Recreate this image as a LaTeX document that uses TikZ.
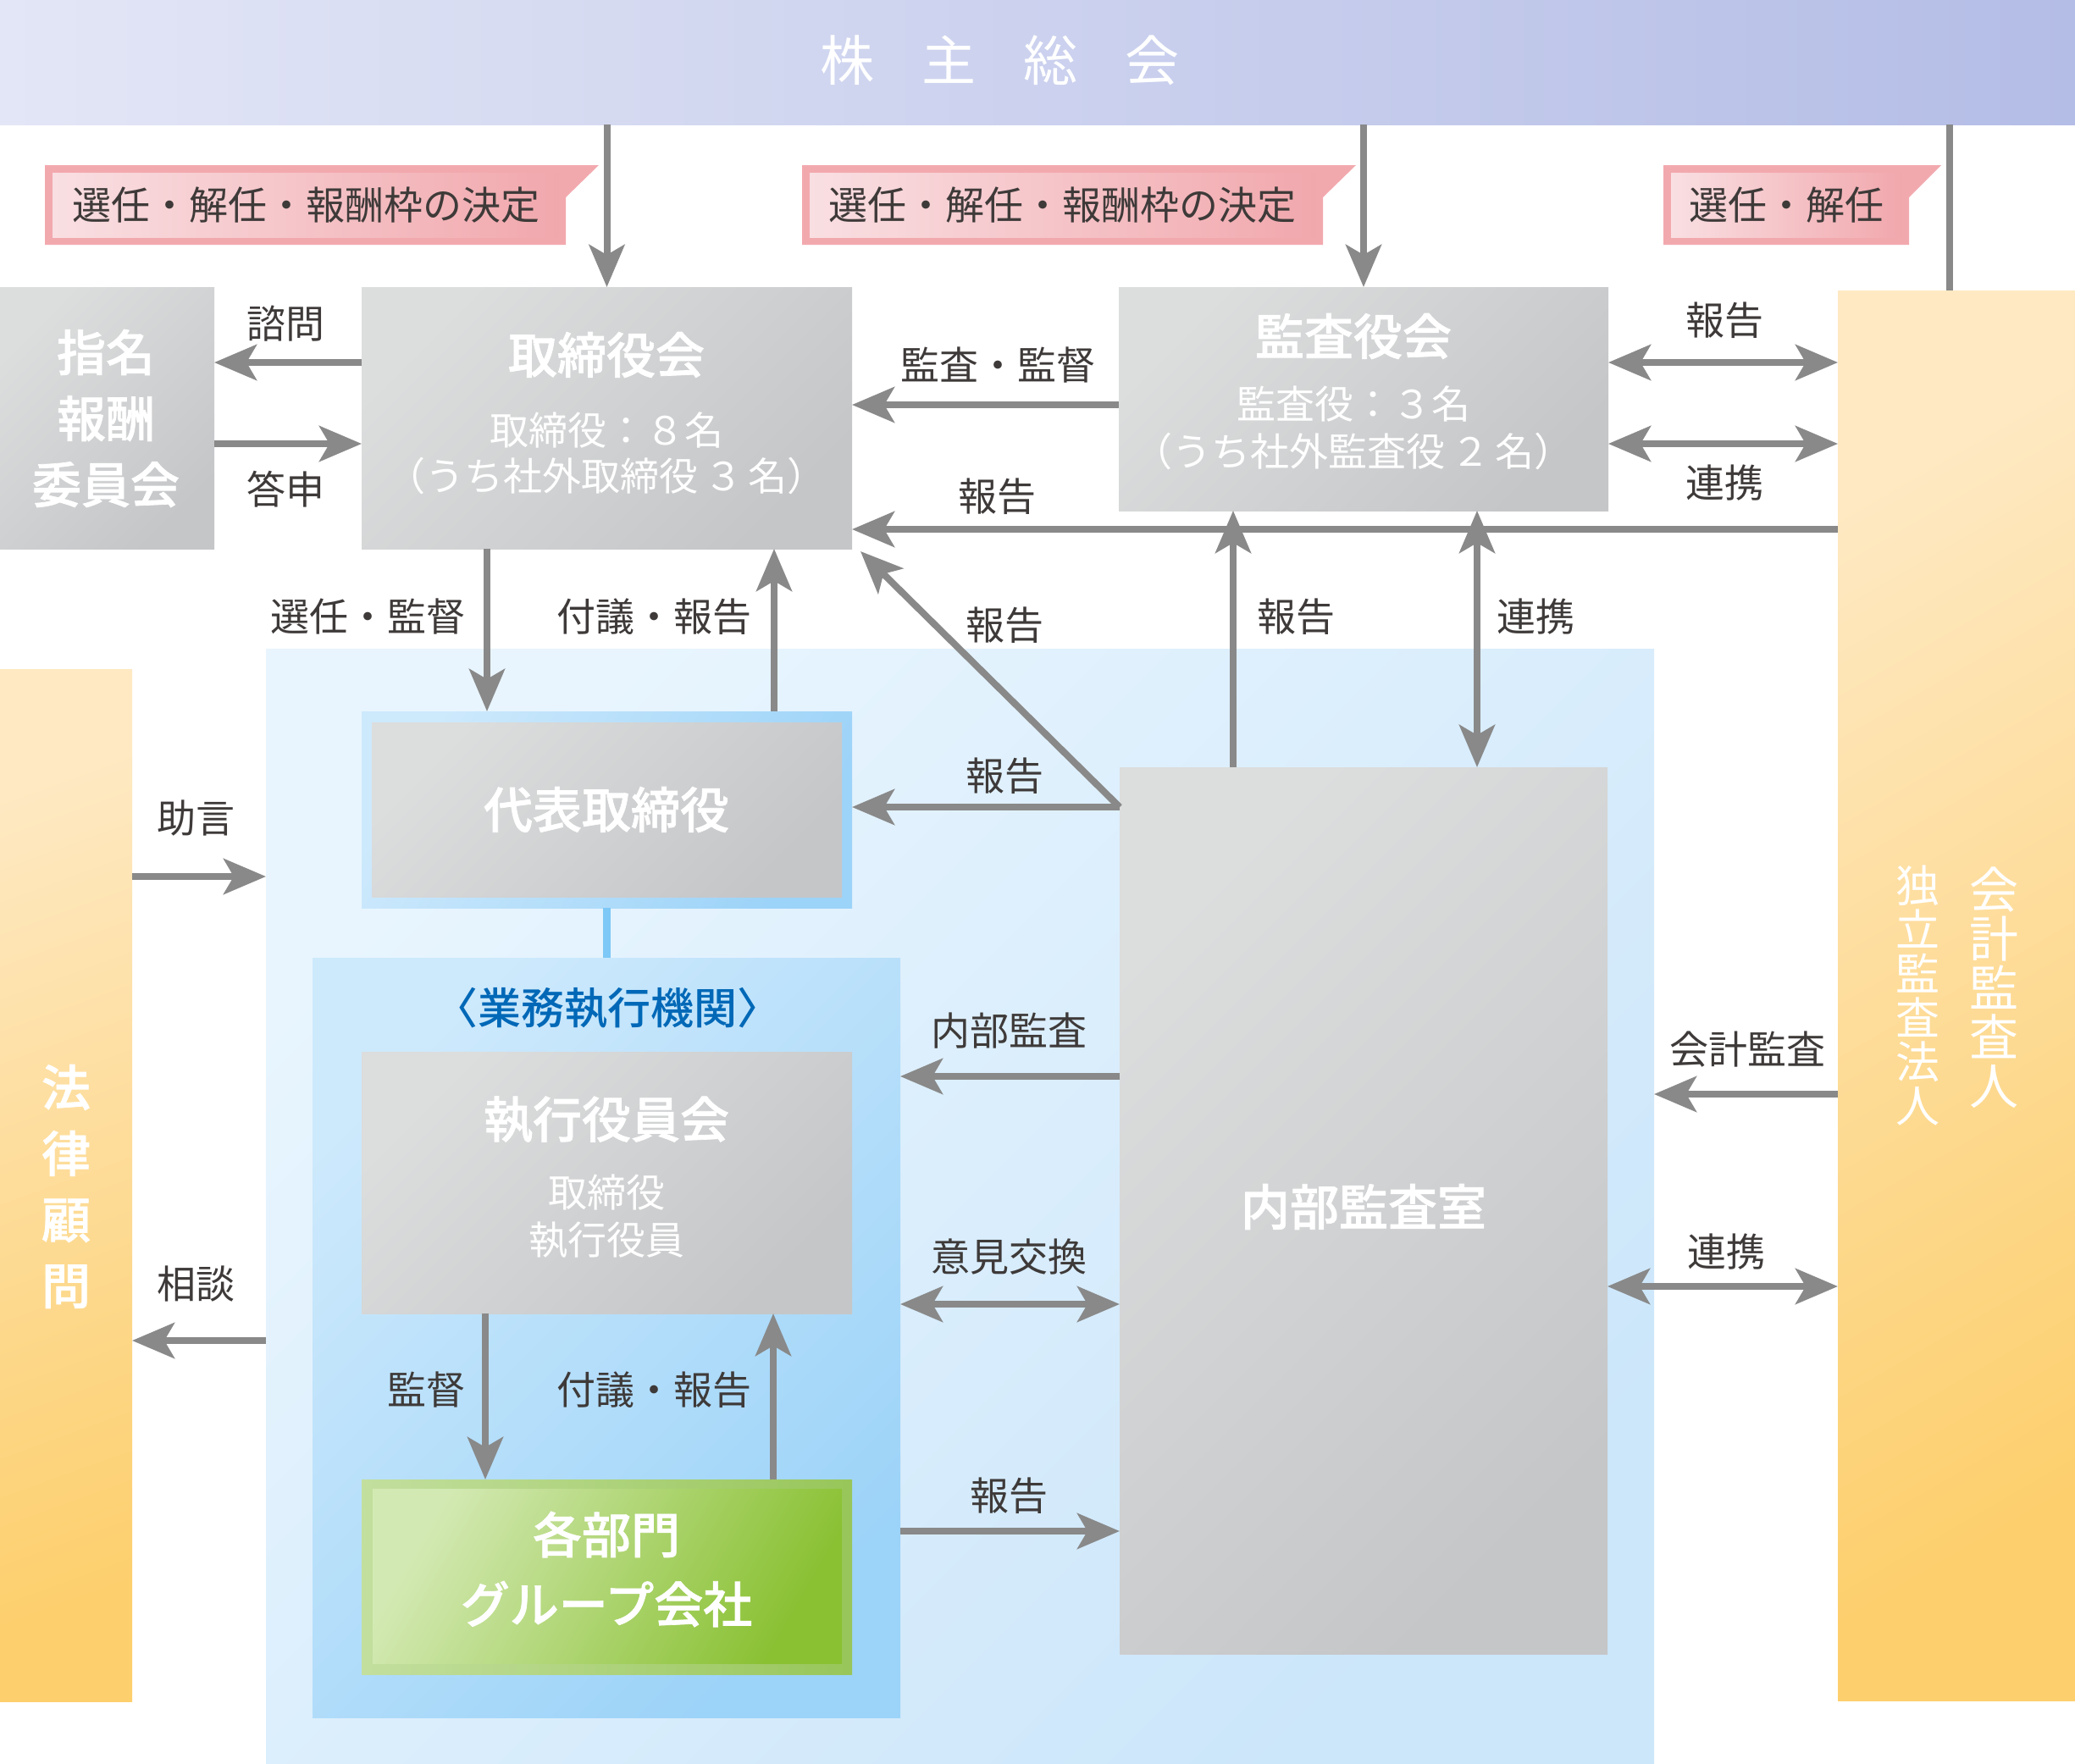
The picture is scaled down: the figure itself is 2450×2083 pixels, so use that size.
\documentclass[tikz,border=0pt]{standalone}
\usepackage{fontspec}
\setmainfont{Noto Sans CJK JP}
\IfFontExistsTF{Noto Sans CJK JP Medium}{%
  \newfontfamily\jpb{Noto Sans CJK JP Medium}%
  \newfontfamily\jpm{Noto Sans CJK JP Medium}[FakeBold=1.2]}{%
  \newfontfamily\jpb{Noto Sans CJK JP}[FakeBold=1.5]%
  \newfontfamily\jpm{Noto Sans CJK JP}[FakeBold=2.5]}
\usetikzlibrary{arrows.meta,calc}
\definecolor{bnL}{HTML}{E3E6F6}
\definecolor{bnR}{HTML}{B4BDE6}
\definecolor{gL}{HTML}{DCDDDD}
\definecolor{gD}{HTML}{C5C6C8}
\definecolor{rgL}{HTML}{E8F5FE}
\definecolor{rgD}{HTML}{CCE6FA}
\definecolor{gyL}{HTML}{CDE9FC}
\definecolor{gyD}{HTML}{9CD3F8}
\definecolor{orL}{HTML}{FEE9C3}
\definecolor{orD}{HTML}{FDCF6D}
\definecolor{pkO}{HTML}{F2A9AE}
\definecolor{pkL}{HTML}{F9DFE2}
\definecolor{pkR}{HTML}{F1A8AD}
\definecolor{grO1}{HTML}{C3DF9E}
\definecolor{grO2}{HTML}{98C65A}
\definecolor{grL}{HTML}{D3E9B3}
\definecolor{grR}{HTML}{8AC133}
\definecolor{ag}{HTML}{898989}
\definecolor{tg}{HTML}{3E3A39}
\definecolor{btx}{HTML}{0068B7}
\definecolor{bln}{HTML}{7DC8F6}
\begin{document}
\lineskiplimit=-100pt
\begin{tikzpicture}[x=1pt,y=-1pt,
  >={Stealth[length=50pt,width=42pt,inset=12pt]},
  arr/.style={draw=ag, line width=8pt},
  bx/.style={anchor=north west, inner sep=0pt, outer sep=0pt, draw=none},
  gbox/.style={bx, top color=gL, bottom color=gD, shading angle=45},
  lab/.style={text=tg, inner sep=0pt, font=\fontsize{46}{54}\selectfont},
  ttl/.style={text=white, inner sep=0pt, font=\jpm\fontsize{58}{78}\selectfont},
  sub/.style={text=white, inner sep=0pt, font=\fontsize{46}{56}\selectfont},
]
\useasboundingbox (0,0) rectangle (2450,2083);
% backgrounds
\node[bx, minimum width=2450pt, minimum height=147pt, left color=bnL, right color=bnR] (banner) at (0,0) {};
\node[bx, minimum width=1639pt, minimum height=1317pt, top color=rgL, bottom color=rgD, shading angle=45] (region) at (314,766) {};
\node[bx, minimum width=694pt, minimum height=897pt, top color=gyL, bottom color=gyD, shading angle=45] (gyomu) at (369,1131) {};
\node[gbox, minimum width=253pt, minimum height=309pt] (nom) at (0,339) {};
\node[gbox, minimum width=579pt, minimum height=309pt] (board) at (427,339) {};
\node[gbox, minimum width=578pt, minimum height=264pt] (kansa) at (1321,339) {};
\node[bx, minimum width=280pt, minimum height=1665pt, top color=orL, bottom color=orD, shading angle=30] (kaikei) at (2170,343) {};
\node[bx, minimum width=156pt, minimum height=1219pt, top color=orL, bottom color=orD, shading angle=20] (houritsu) at (0,790) {};
\node[bx, minimum width=579pt, minimum height=232pt, top color=gyL, bottom color=gyD, shading angle=60] (daihyoF) at (427,840) {};
\node[gbox, minimum width=555pt, minimum height=206pt] (daihyo) at (439,853) {};
\node[gbox, minimum width=579pt, minimum height=309pt] (shikko) at (427,1242) {};
\node[bx, minimum width=579pt, minimum height=230pt, left color=grO1, right color=grO2] (kakubuF) at (427,1747) {};
\node[bx, minimum width=554pt, minimum height=206pt, top color=grL, bottom color=grR, shading angle=60] (kakubu) at (440,1758) {};
\node[gbox, minimum width=576pt, minimum height=1047pt] (naibu) at (1322,906) {};
% pink flags
\fill[pkO] (53,195) -- (707,195) -- (668,233) -- (668,289) -- (53,289) -- cycle;
\shade[left color=pkL, right color=pkR] (62,204) rectangle (659,280);
\fill[pkO] (947,195) -- (1601,195) -- (1562,233) -- (1562,289) -- (947,289) -- cycle;
\shade[left color=pkL, right color=pkR] (956,204) rectangle (1553,280);
\fill[pkO] (1964,195) -- (2292,195) -- (2254,233) -- (2254,289) -- (1964,289) -- cycle;
\shade[left color=pkL, right color=pkR] (1973,204) rectangle (2245,280);
% connectors
\draw[arr,->] (banner.south -| board.north) -- (board.north);
\draw[arr,->] (banner.south -| kansa.north) -- (kansa.north);
\draw[arr] (banner.south -| 2302,0) -- (2302,0 |- kaikei.north);
\draw[arr,->] (board.west |- 0,428) -- (nom.east |- 0,428);
\draw[arr,->] (nom.east |- 0,524) -- (board.west |- 0,524);
\draw[arr,->] (kansa.west |- 0,478) -- (board.east |- 0,478);
\draw[arr,->] (kaikei.west |- 0,625) -- (board.east |- 0,625);
\draw[arr,<->] (kansa.east |- 0,428) -- (kaikei.west |- 0,428);
\draw[arr,<->] (kansa.east |- 0,524) -- (kaikei.west |- 0,524);
\draw[arr,->] (1456,0 |- naibu.north) -- (1456,0 |- kansa.south);
\draw[arr,<->] (1744,0 |- naibu.north) -- (1744,0 |- kansa.south);
\draw[arr,->] (naibu.west |- 0,953) -- ($(board.south east)+(10,3)$);
\draw[arr,->] (naibu.west |- 0,953) -- (daihyoF.east |- 0,953);
\draw[arr,->] (575,0 |- board.south) -- (575,0 |- daihyoF.north);
\draw[arr,->] (914,0 |- daihyoF.north) -- (914,0 |- board.south);
\draw[draw=bln, line width=9pt] (daihyoF.south) -- (daihyoF.south |- gyomu.north);
\draw[arr,->] (naibu.west |- 0,1271) -- (gyomu.east |- 0,1271);
\draw[arr,<->] (gyomu.east |- 0,1540) -- (naibu.west |- 0,1540);
\draw[arr,->] (gyomu.east |- 0,1808) -- (naibu.west |- 0,1808);
\draw[arr,->] (573,0 |- shikko.south) -- (573,0 |- kakubuF.north);
\draw[arr,->] (913,0 |- kakubuF.north) -- (913,0 |- shikko.south);
\draw[arr,->] (kaikei.west |- 0,1292) -- (region.east |- 0,1292);
\draw[arr,<->] (naibu.east |- 0,1519) -- (kaikei.west |- 0,1519);
\draw[arr,->] (houritsu.east |- 0,1035) -- (region.west |- 0,1035);
\draw[arr,->] (region.west |- 0,1583) -- (houritsu.east |- 0,1583);
% texts
\node[text=white, inner sep=0pt, font=\fontsize{64}{64}\selectfont] (bannerT) at (1180,71) {株\hspace{56pt}主\hspace{56pt}総\hspace{56pt}会};
\node[lab] (p1t) at (361,242) {選任・解任・報酬枠の決定};
\node[lab] (p2t) at (1254,242) {選任・解任・報酬枠の決定};
\node[lab] (p3t) at (2109,242) {選任・解任};
\node[ttl, align=center] (nomT) at (125,494) {指名\\報酬\\委員会};
\node[ttl] (boardT) at (716,419) {取締役会};
\node[sub] (boardS1) at (716,508) {取締役：８名};
\node[sub] (boardS2) at (716,562) {（うち社外取締役\hspace{8pt}３\hspace{6pt}名）};
\node[ttl] (kansaT) at (1598,397) {監査役会};
\node[sub] (kansaS1) at (1598,477) {監査役：３名};
\node[sub] (kansaS2) at (1598,533) {（うち社外監査役\hspace{8pt}２\hspace{6pt}名）};
\node[ttl] (daihyoT) at (716,956) {代表取締役};
\node[text=btx, inner sep=0pt, font=\jpb\fontsize{51}{56}\selectfont] (gyomuT) at (717,1190) {〈業務執行機関〉};
\node[ttl] (shikkoT) at (716,1322) {執行役員会};
\node[sub] (shikkoS1) at (716,1408) {取締役};
\node[sub] (shikkoS2) at (716,1464) {執行役員};
\node[ttl, align=center, font=\jpm\fontsize{58}{82}\selectfont] (kakubuT) at (716,1853) {各部門\\グループ会社};
\node[ttl] (naibuT) at (1610,1425) {内部監査室};
\node[ttl, align=center] (houT) at (78,1401) {法\\律\\顧\\問};
\node[text=white, inner sep=0pt, align=center, font=\fontsize{58}{58}\selectfont] (kaikeiT) at (2354,1166) {会\\計\\監\\査\\人};
\node[text=white, inner sep=0pt, align=center, font=\fontsize{52}{52}\selectfont] (kaikeiS) at (2264,1176) {独\\立\\監\\査\\法\\人};
\node[lab] (l1) at (337,382) {諮問};
\node[lab] (l2) at (337,578) {答申};
\node[lab] (l3) at (1178,431) {監査・監督};
\node[lab] (l4) at (1177,586) {報告};
\node[lab] (l5) at (2036,378) {報告};
\node[lab] (l6) at (2036,570) {連携};
\node[lab] (l7) at (434,728) {選任・監督};
\node[lab] (l8) at (772,728) {付議・報告};
\node[lab] (l9) at (1186,738) {報告};
\node[lab] (l10) at (1530,728) {報告};
\node[lab] (l11) at (1813,728) {連携};
\node[lab] (l12) at (1186,916) {報告};
\node[lab] (l13) at (231,966) {助言};
\node[lab] (l14) at (1191,1217) {内部監査};
\node[lab] (l15) at (2063,1239) {会計監査};
\node[lab] (l16) at (1191,1484) {意見交換};
\node[lab] (l17) at (2038,1478) {連携};
\node[lab] (l18) at (231,1516) {相談};
\node[lab] (l19) at (503,1641) {監督};
\node[lab] (l20) at (772,1641) {付議・報告};
\node[lab] (l21) at (1191,1766) {報告};
\end{tikzpicture}
\end{document}
